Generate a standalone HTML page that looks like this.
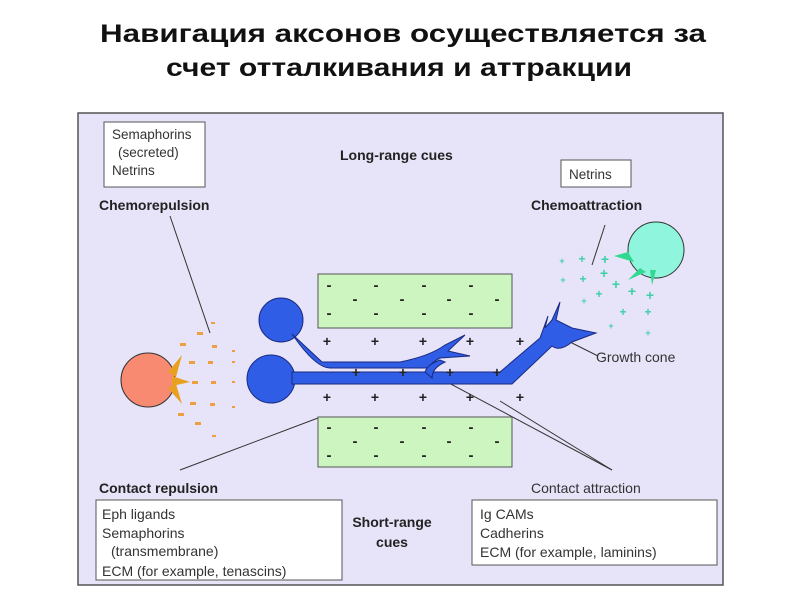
<!DOCTYPE html>
<html><head><meta charset="utf-8"><style>
html,body{margin:0;padding:0;background:#fff;width:800px;height:600px;overflow:hidden}
svg{display:block}
text{font-family:"Liberation Sans",Arial,sans-serif}
</style></head><body>
<svg width="800" height="600" viewBox="0 0 800 600" xmlns="http://www.w3.org/2000/svg">
<text x="100" y="42" font-size="25" font-weight="bold" fill="#111" textLength="606" lengthAdjust="spacingAndGlyphs">Навигация аксонов осуществляется  за</text>
<text x="166" y="76" font-size="25" font-weight="bold" fill="#111" textLength="466" lengthAdjust="spacingAndGlyphs">счет отталкивания и аттракции</text>

<rect x="78" y="113" width="645" height="472" fill="#e7e3f8" stroke="#555" stroke-width="1.5"/>

<rect x="104" y="122" width="101" height="65" fill="#fff" stroke="#555"/>
<g font-size="13.5" fill="#333">
<text x="112" y="139">Semaphorins</text>
<text x="118" y="157">(secreted)</text>
<text x="112" y="175">Netrins</text>
</g>
<text x="340" y="160" font-size="14" font-weight="bold" fill="#222">Long-range cues</text>
<rect x="561" y="160" width="70" height="27" fill="#fff" stroke="#555"/>
<text x="569" y="179" font-size="13.5" fill="#333">Netrins</text>
<text x="99" y="210" font-size="14" font-weight="bold" fill="#222">Chemorepulsion</text>
<text x="531" y="210" font-size="14" font-weight="bold" fill="#222">Chemoattraction</text>

<g stroke="#333" stroke-width="1" fill="none">
<line x1="170" y1="216" x2="210" y2="333"/>
<line x1="605" y1="225" x2="592" y2="265"/>
<line x1="566" y1="340" x2="598" y2="356"/>
<line x1="180" y1="470" x2="318" y2="418"/>
<line x1="612" y1="470" x2="432" y2="374"/>
<line x1="612" y1="470" x2="500" y2="401"/>
</g>

<rect x="318" y="274" width="194" height="54" fill="#ccf5c0" stroke="#555"/>
<rect x="318" y="417" width="194" height="50" fill="#ccf5c0" stroke="#555"/>
<g font-size="15" font-weight="bold" fill="#222" text-anchor="middle">
<text x="329" y="290">-</text><text x="376" y="290">-</text><text x="424" y="290">-</text><text x="471" y="290">-</text>
<text x="355" y="304">-</text><text x="402" y="304">-</text><text x="449" y="304">-</text><text x="497" y="304">-</text>
<text x="329" y="318">-</text><text x="376" y="318">-</text><text x="424" y="318">-</text><text x="471" y="318">-</text>
<text x="329" y="432">-</text><text x="376" y="432">-</text><text x="424" y="432">-</text><text x="471" y="432">-</text>
<text x="355" y="446">-</text><text x="402" y="446">-</text><text x="449" y="446">-</text><text x="497" y="446">-</text>
<text x="329" y="460">-</text><text x="376" y="460">-</text><text x="424" y="460">-</text><text x="471" y="460">-</text>
</g>

<g fill="#2f5de6" stroke="#1a2a80" stroke-width="1">
<circle cx="281" cy="320" r="22"/>
<circle cx="271" cy="379" r="24"/>
<path d="M292 334 L322 362 L400 362 Q430 356 445 345 L465 335 L448 351 L470 356 L440 358 Q432 362 428 368 L330 368 Q318 368 300 345 Z"/>
<path d="M292 372 L500 372 L540 338 L548 316 L545 328 L552 320 L560 302 L556 320 L572 328 L596 333 L572 342 Q560 352 552 346 L512 384 L292 384 Z"/>
<path d="M425 372 Q428 364 440 360 L445 362 Q432 368 432 378 Z"/>
</g>

<g font-size="14" font-weight="bold" fill="#222" text-anchor="middle">
<text x="327" y="346">+</text><text x="375" y="346">+</text><text x="423" y="346">+</text><text x="470" y="346">+</text><text x="520" y="346">+</text>
<text x="356" y="377">+</text><text x="403" y="377">+</text><text x="450" y="377">+</text><text x="497" y="377">+</text>
<text x="327" y="402">+</text><text x="375" y="402">+</text><text x="423" y="402">+</text><text x="470" y="402">+</text><text x="520" y="402">+</text>
</g>

<circle cx="148" cy="380" r="27" fill="#f98a72" stroke="#333"/>
<g fill="#e8a020">
<path d="M168 372 L182 355 L176 377 Z"/>
<path d="M172 376 L190 382 L172 386 Z"/>
<path d="M168 388 L182 404 L176 384 Z"/>
</g>
<g fill="#eea040">
<rect x="211" y="322" width="4" height="2"/>
<rect x="197" y="332" width="6" height="3"/>
<rect x="180" y="343" width="6" height="3"/>
<rect x="212" y="345" width="5" height="3"/><rect x="232" y="350" width="3" height="2"/>
<rect x="189" y="361" width="6" height="3"/><rect x="208" y="361" width="5" height="3"/><rect x="232" y="361" width="3" height="2"/>
<rect x="192" y="381" width="6" height="3"/><rect x="211" y="381" width="5" height="3"/><rect x="232" y="381" width="3" height="2"/>
<rect x="190" y="402" width="6" height="3"/><rect x="210" y="403" width="5" height="3"/><rect x="232" y="406" width="3" height="2"/>
<rect x="178" y="413" width="6" height="3"/><rect x="195" y="422" width="6" height="3"/><rect x="212" y="435" width="4" height="2"/>
</g>

<circle cx="656" cy="250" r="28" fill="#8ff5dc" stroke="#333"/>
<g fill="#30d890">
<path d="M628 252 L614 256 L634 262 Z"/>
<path d="M640 268 L628 280 L646 272 Z"/>
<path d="M650 270 L652 285 L656 270 Z"/>
</g>
<g fill="#3ed0a8" text-anchor="middle" font-weight="bold">
<text x="562" y="264" font-size="9">+</text><text x="582" y="263" font-size="12">+</text><text x="605" y="264" font-size="14">+</text>
<text x="563" y="283" font-size="9">+</text><text x="583" y="283" font-size="12">+</text><text x="604" y="278" font-size="14">+</text>
<text x="616" y="289" font-size="14">+</text><text x="632" y="296" font-size="14">+</text><text x="650" y="300" font-size="14">+</text>
<text x="599" y="298" font-size="12">+</text><text x="584" y="304" font-size="9">+</text>
<text x="623" y="316" font-size="12">+</text><text x="648" y="316" font-size="12">+</text>
<text x="611" y="329" font-size="9">+</text><text x="648" y="336" font-size="9">+</text>
</g>

<text x="596" y="362" font-size="14" fill="#333">Growth cone</text>

<text x="99" y="493" font-size="14" font-weight="bold" fill="#222">Contact repulsion</text>
<text x="531" y="493" font-size="14" fill="#333">Contact attraction</text>
<rect x="96" y="500" width="246" height="80" fill="#fff" stroke="#555"/>
<g font-size="14" fill="#333">
<text x="102" y="519">Eph ligands</text>
<text x="102" y="538">Semaphorins</text>
<text x="111" y="556">(transmembrane)</text>
<text x="102" y="576">ECM (for example, tenascins)</text>
</g>
<text x="392" y="527" text-anchor="middle" font-size="14" font-weight="bold" fill="#222">Short-range</text>
<text x="392" y="547" text-anchor="middle" font-size="14" font-weight="bold" fill="#222">cues</text>
<rect x="472" y="500" width="245" height="65" fill="#fff" stroke="#555"/>
<g font-size="14" fill="#333">
<text x="480" y="519">Ig CAMs</text>
<text x="480" y="538">Cadherins</text>
<text x="480" y="557">ECM (for example, laminins)</text>
</g>
</svg>
</body></html>
